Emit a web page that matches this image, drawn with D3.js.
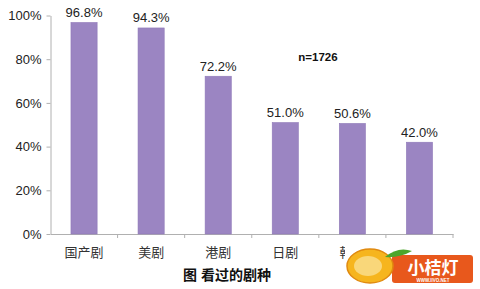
<!DOCTYPE html>
<html>
<head>
<meta charset="utf-8">
<script src="https://cdn.jsdelivr.net/npm/d3@7"></script>
<style>
  body { margin: 0; background: #fff; }
  text { font-family: "Liberation Sans", Arial, "Noto Sans CJK SC", sans-serif; }
</style>
</head>
<body>
<div id="chart"></div>
<script>
// data
const categories = ["国产剧", "美剧", "港剧", "日剧", "韩剧", "其他"];
const values = [96.8, 94.3, 72.2, 51.0, 50.6, 42.0];
const yTicks = [0, 20, 40, 60, 80, 100];
const title = "图 看过的剧种";
const note = "n=1726";

const W = 480, H = 289;
const m = {t: 15.5, r: 27, b: 55, l: 50.5};

const svg = d3.select("#chart").append("svg")
  .attr("width", W).attr("height", H);

const x = d3.scaleBand().domain(categories).range([m.l, W - m.r]).padding(0);
const y = d3.scaleLinear().domain([0, 100]).range([H - m.b, m.t]);
const barW = x.bandwidth() * 0.39;

// y axis
const yAxis = svg.append("g")
  .attr("transform", "translate(" + m.l + ",0)")
  .call(d3.axisLeft(y).tickValues(yTicks).tickSize(4).tickSizeOuter(0)
    .tickFormat(function(d){ return d + "%"; }));
yAxis.select(".domain").attr("stroke", "#b0b0b0");
yAxis.selectAll(".tick line").attr("stroke", "#b0b0b0");
yAxis.selectAll(".tick text").attr("font-size", 13).attr("fill", "#222")
  .attr("x", -9).attr("font-family", "Liberation Sans, Arial, sans-serif");

// x axis
const xAxis = svg.append("g")
  .attr("transform", "translate(0," + y(0) + ")")
  .call(d3.axisBottom(x).tickSize(0).tickSizeOuter(0));
xAxis.select(".domain").attr("stroke", "#b0b0b0");
xAxis.selectAll(".tick text").attr("font-size", 13).attr("fill", "#333")
  .attr("dy", "1.55em").attr("font-family", "Noto Sans CJK SC, sans-serif");
// category separator ticks
svg.append("g").selectAll("line").data(categories).enter().append("line")
  .attr("x1", function(d){ return x(d) + x.bandwidth(); })
  .attr("x2", function(d){ return x(d) + x.bandwidth(); })
  .attr("y1", y(0)).attr("y2", y(0) + 4)
  .attr("stroke", "#b0b0b0");

// bars
const bars = svg.selectAll(".bar").data(values).enter()
  .append("g").attr("class", "bar");

bars.append("rect")
  .attr("x", function(d, i){ return x(categories[i]) + x.bandwidth() / 2 - barW / 2; })
  .attr("y", function(d){ return y(d); })
  .attr("width", barW)
  .attr("height", function(d){ return y(0) - y(d); })
  .attr("fill", "#9b85c2")
  .attr("stroke", "#8f79b8").attr("stroke-width", 0.6);

bars.append("text")
  .text(function(d){ return d.toFixed(1) + "%"; })
  .attr("x", function(d, i){ return x(categories[i]) + x.bandwidth() / 2; })
  .attr("y", function(d){ return y(d) - 5.5; })
  .attr("text-anchor", "middle")
  .attr("font-size", 13).attr("fill", "#222");

// sample size note
svg.append("text").text(note)
  .attr("x", 318).attr("y", 61)
  .attr("text-anchor", "middle")
  .attr("font-size", 11.5).attr("font-weight", "bold").attr("fill", "#111");

// chart title
svg.append("text").text(title)
  .attr("x", 227).attr("y", 280)
  .attr("text-anchor", "middle")
  .attr("font-family", "Noto Sans CJK SC, sans-serif")
  .attr("font-size", 14).attr("font-weight", "bold").attr("fill", "#111");

// watermark logo (sits over the last labels, as in the source image)
const logo = svg.append("g");
logo.append("rect").attr("x", 345).attr("y", 246).attr("width", 135).attr("height", 43).attr("fill", "#fff");
logo.append("rect").attr("x", 392).attr("y", 255).attr("width", 81).attr("height", 28)
  .attr("rx", 3).attr("fill", "#e8581c");
logo.append("ellipse").attr("cx", 370).attr("cy", 266).attr("rx", 23).attr("ry", 17)
  .attr("fill", "#f6b51e").attr("stroke", "#e08a10").attr("stroke-width", 1.5);
logo.append("ellipse").attr("cx", 368).attr("cy", 266).attr("rx", 14).attr("ry", 10)
  .attr("fill", "#f9d77a");
logo.append("path").attr("d", "M385,257 Q398,246 412,251 Q400,258 385,257Z").attr("fill", "#4ca62c");
logo.append("text").text("小桔灯")
  .attr("x", 433).attr("y", 274)
  .attr("text-anchor", "middle")
  .attr("font-family", "Noto Sans CJK SC, sans-serif")
  .attr("font-size", 17).attr("font-weight", "bold").attr("fill", "#fff");
logo.append("text").text("WWW.IIVO.NET")
  .attr("x", 433).attr("y", 281.5)
  .attr("text-anchor", "middle")
  .attr("font-size", 4.5).attr("font-weight", "bold").attr("fill", "#fff");
</script>
</body>
</html>
